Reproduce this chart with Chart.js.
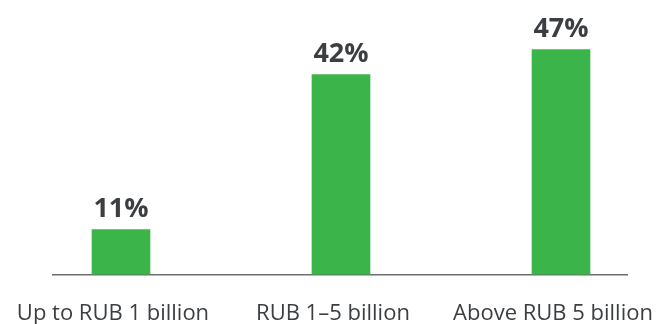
<!DOCTYPE html>
<html>
<head>
<meta charset="utf-8">
<script src="https://cdn.jsdelivr.net/npm/chart.js@4"></script>
<style>
  html, body { margin: 0; padding: 0; background: #fff; }
  #wrap { width: 660px; height: 324px; }
</style>
</head>
<body>
<div id="wrap"><canvas id="shareChart" width="660" height="324"></canvas></div>
<script>
const categories = ['Up to RUB 1 billion', 'RUB 1–5 billion', 'Above RUB 5 billion'];
const shares = [11, 42, 47];

const labelFont = '"Open Sans", "DejaVu Sans", sans-serif';

// percent labels above each bar
const valueLabels = {
    id: 'valueLabels',
    afterDatasetsDraw(chart) {
        const ctx = chart.ctx;
        const meta = chart.getDatasetMeta(0);
        ctx.save();
        ctx.font = 'bold 27px ' + labelFont;
        ctx.fillStyle = '#3c3f42';
        ctx.textAlign = 'center';
        ctx.textBaseline = 'alphabetic';
        meta.data.forEach((bar, i) => {
            ctx.fillText(shares[i] + '%', bar.x, bar.y - 13);
        });
        ctx.restore();
    }
};

const ctx = document.getElementById('shareChart').getContext('2d');
const chart = new Chart(ctx, {
    type: 'bar',
    data: {
        datasets: [{
            data: shares.map((v, i) => ({ x: i, y: v })),
            backgroundColor: '#3bb54a',
            borderWidth: 0,
            barThickness: 58
        }]
    },
    options: {
        responsive: false,
        animation: false,
        layout: { padding: { left: 53, right: 33, top: 34.5, bottom: 0 } },
        plugins: { legend: { display: false }, tooltip: { enabled: false } },
        scales: {
            x: {
                type: 'linear',
                offset: false,
                min: -0.309,
                max: 2.3,
                afterBuildTicks: (scale) => { scale.ticks = categories.map((c, i) => ({ value: i })); },
                afterFit: (scale) => {
                    scale.height = 49.5;
                    scale.paddingLeft = 0;
                    scale.paddingRight = 0;
                },
                grid: { display: false, drawTicks: false },
                border: { color: '#6e6e6e', width: 1.5 },
                ticks: {
                    autoSkip: false,
                    maxRotation: 0,
                    padding: 26,
                    labelOffset: -8,
                    color: '#3c3f42',
                    font: { family: labelFont, size: 22 },
                    callback: (v) => categories[v] ?? ''
                }
            },
            y: { display: false, min: 2, max: 50 }
        }
    },
    plugins: [valueLabels]
});
</script>
</body>
</html>
